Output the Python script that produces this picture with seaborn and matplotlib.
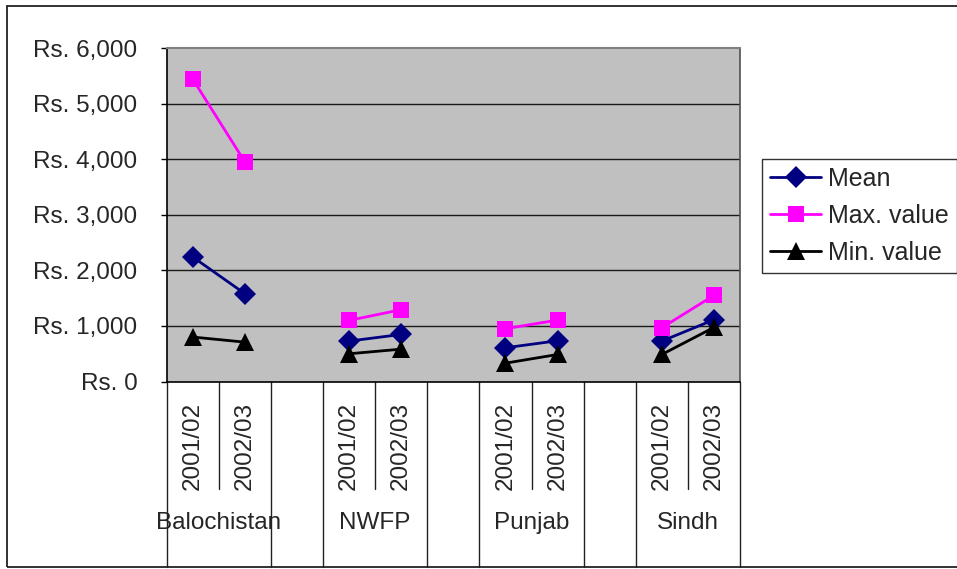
import matplotlib
matplotlib.use("Agg")
import matplotlib.pyplot as plt
import seaborn as sns
import pandas as pd
from matplotlib.patches import Rectangle
from matplotlib.lines import Line2D

regions = ["Balochistan", "NWFP", "Punjab", "Sindh"]
years = ["2001/02", "2002/03"]
mean_vals = [2240, 1580, 727, 847, 607, 733, 727, 1111]
max_vals = [5440, 3951, 1099, 1292, 950, 1105, 967, 1550]
min_vals = [800, 708, 499, 582, 330, 486, 486, 973]
series_names = ["Mean", "Max. value", "Min. value"]
y_ticks = [0, 1000, 2000, 3000, 4000, 5000, 6000]
y_tick_labels = ["Rs. 0", "Rs. 1,000", "Rs. 2,000", "Rs. 3,000", "Rs. 4,000", "Rs. 5,000", "Rs. 6,000"]

# category slots: 2 years per region, then an empty slot
positions = []
for gi in range(len(regions)):
    for yi in range(len(years)):
        positions.append(gi * 3 + yi)

rows = []
for name, vals in zip(series_names, [mean_vals, max_vals, min_vals]):
    for i, v in enumerate(vals):
        rows.append({"series": name, "pos": positions[i], "value": v,
                     "region": regions[i // 2], "year": years[i % 2]})
df = pd.DataFrame(rows)

sns.set_style("white")
plt.rcParams["font.family"] = ["Liberation Sans", "DejaVu Sans"]
FS = 17.5

W, H = 957, 569
fig = plt.figure(figsize=(W / 100, H / 100), dpi=100)
L, R, T, B = 166.7, 740, 48, 381.5
ax = fig.add_axes([L / W, 1 - B / H, (R - L) / W, (B - T) / H])
ax.set_facecolor("#C0C0C0")

palette = {"Mean": "#000080", "Max. value": "#FF00FF", "Min. value": "#000000"}
markers = {"Mean": "D", "Max. value": "s", "Min. value": "^"}
msizes = {"Mean": 11, "Max. value": 11.5, "Min. value": 12.5}
LW = 2.0
sns.lineplot(data=df, x="pos", y="value", hue="series", style="series",
             units="region", estimator=None, hue_order=series_names,
             style_order=series_names, palette=palette, markers=markers,
             dashes=False, linewidth=LW, markersize=11.5, markeredgewidth=0,
             legend=False, ax=ax, zorder=3)
for line in ax.lines:
    mk = line.get_marker()
    for n in series_names:
        if markers[n] == mk:
            line.set_markersize(msizes[n])

ax.set_xlim(-0.5, 10.5)
ax.set_ylim(0, 6000)
ax.set_yticks(y_ticks)
ax.set_yticklabels(y_tick_labels, fontsize=FS)
ax.tick_params(axis="y", direction="out", length=4.5, width=1, color="black", pad=16.5, left=True)
ax.set_xticks(positions)
ax.set_xticklabels(years * len(regions), rotation=90, fontsize=FS)
ax.tick_params(axis="x", length=0, pad=14.5)
ax.set_xlabel("")
ax.set_ylabel("")
for y in y_ticks[1:-1]:
    ax.axhline(y, color="#1a1a1a", lw=1, zorder=1)

for side in ["left", "bottom"]:
    ax.spines[side].set_color("black")
    ax.spines[side].set_linewidth(1.2)
ax.spines["top"].set_color("#808080")
ax.spines["top"].set_linewidth(1.5)
ax.spines["right"].set_color("#505050")
ax.spines["right"].set_linewidth(1.2)

# multi-level category separators
ah = B - T
short_y = -(489 - B) / ah
long_y = -(567 - B) / ah
xt = ax.get_xaxis_transform()
for k in range(12):
    xb = k - 0.5
    is_short = (k % 3 == 1)
    ax.plot([xb, xb], [0, short_y if is_short else long_y], color="#222222",
            lw=1, transform=xt, clip_on=False)

group_y = -(523 - B) / ah
for gi, reg in enumerate(regions):
    ax.text(gi * 3 + 0.5, group_y, reg, transform=xt, ha="center", va="center",
            fontsize=FS)

# legend
handles = [Line2D([0], [0], color=palette[n], marker=markers[n], lw=LW,
                  markersize=msizes[n], markeredgewidth=0) for n in series_names]
leg = fig.legend(handles, series_names, loc="upper left",
                 bbox_to_anchor=(762 / W, 1 - 159 / H), fontsize=18,
                 frameon=True, fancybox=False, shadow=False, handlelength=2.05,
                 handletextpad=0.28, borderpad=0.32, labelspacing=0.52,
                 borderaxespad=0)
leg.get_frame().set_edgecolor("black")
leg.get_frame().set_linewidth(1)

# outer chart border
fig.patches.append(Rectangle((7 / W, 1 - 567 / H), (W + 5 - 7) / W, (567 - 6) / H,
                             transform=fig.transFigure, fill=False,
                             edgecolor="#222222", lw=1.3))

fig.savefig("out.png", dpi=100)
